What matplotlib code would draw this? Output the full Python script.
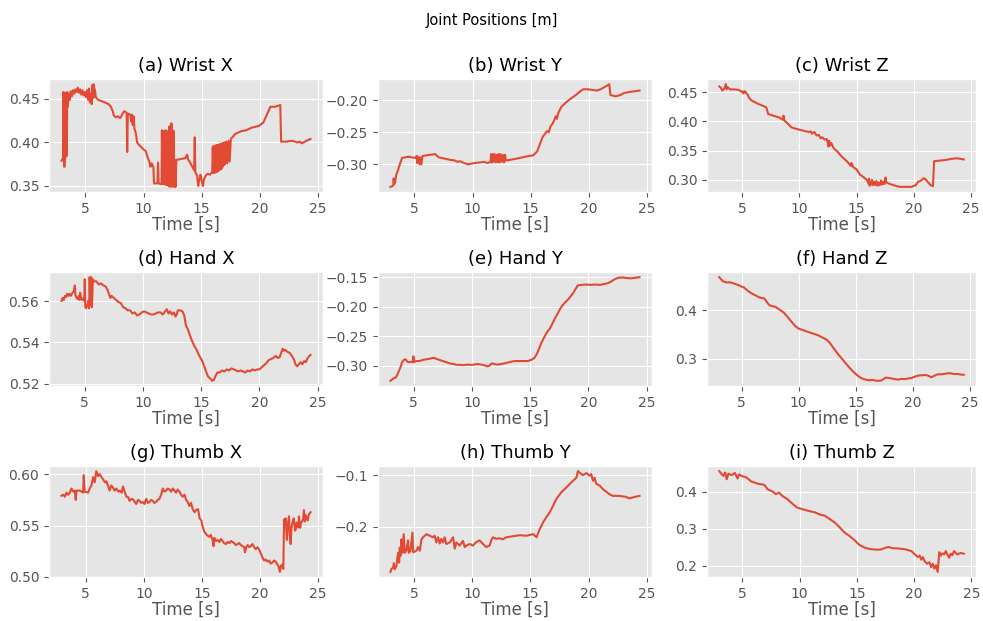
import matplotlib
matplotlib.use("Agg")
import matplotlib.pyplot as plt

plt.style.use("ggplot")

# ---------------- data ----------------
titles = ["(a) Wrist X", "(b) Wrist Y", "(c) Wrist Z",
          "(d) Hand X", "(e) Hand Y", "(f) Hand Z",
          "(g) Thumb X", "(h) Thumb Y", "(i) Thumb Z"]
suptitle = "Joint Positions [m]"
xlabel = "Time [s]"
xticks = [5, 10, 15, 20, 25]
yticks = [[0.35, 0.40, 0.45], [-0.30, -0.25, -0.20], [0.30, 0.35, 0.40, 0.45],
          [0.52, 0.54, 0.56], [-0.30, -0.25, -0.20, -0.15], [0.3, 0.4],
          [0.50, 0.55, 0.60], [-0.2, -0.1], [0.2, 0.3, 0.4]]

wrist_x_pts = [(2.95,0.379),(3.05,0.381),(3.10,0.383),(3.13,0.458),(3.16,0.380),(3.20,0.372),(3.27,0.383),(3.31,0.457),(3.35,0.384),(3.41,0.385),(3.45,0.458),(3.50,0.441),(3.58,0.456),(3.66,0.449),(3.75,0.459),(3.85,0.453),(3.95,0.460),(4.05,0.456),(4.15,0.461),(4.25,0.458),(4.35,0.463),(4.45,0.457),(4.55,0.461),(4.65,0.455),(4.75,0.460),(4.85,0.454),(4.95,0.458),(5.05,0.452),(5.15,0.460),(5.25,0.449),(5.32,0.462),(5.40,0.446),(5.48,0.456),(5.55,0.444),(5.60,0.466),(5.65,0.451),(5.70,0.467),(5.76,0.452),(5.82,0.461),(5.90,0.452),(6.1,0.449),(6.5,0.447),(7.0,0.444),(7.2,0.441),(7.35,0.436),(7.45,0.431),(7.6,0.429),(7.8,0.430),(8.0,0.428),(8.2,0.433),(8.35,0.436),(8.55,0.434),(8.6,0.389),(8.65,0.433),(8.85,0.432),(8.95,0.424),(9.0,0.432),(9.08,0.420),(9.15,0.430),(9.22,0.416),(9.35,0.410),(9.45,0.400),(9.7,0.396),(10.0,0.392),(10.2,0.390),(10.35,0.383),(10.5,0.378),(10.6,0.372),(10.7,0.376),(10.85,0.372),(10.9,0.353),(11.2,0.353),(11.25,0.377),(11.3,0.353),(11.55,0.352),(11.58,0.414),(11.62,0.353),(11.7,0.413),(11.75,0.352),(11.8,0.413),(11.9,0.414),(11.95,0.351),(12.0,0.413),(12.1,0.412),(12.15,0.350),(12.2,0.418),(12.25,0.349),(12.3,0.419),(12.35,0.350),(12.4,0.422),(12.45,0.349),(12.5,0.414),(12.55,0.350),(12.6,0.413),(12.65,0.349),(12.7,0.380),(12.75,0.349),(12.82,0.380),(13.2,0.381),(13.6,0.382),(13.75,0.386),(13.85,0.380),(14.0,0.377),(14.2,0.372),(14.35,0.368),(14.4,0.406),(14.45,0.366),(14.6,0.362),(14.7,0.350),(14.8,0.358),(14.9,0.363),(15.0,0.356),(15.1,0.350),(15.2,0.358),(15.35,0.362),(15.5,0.364),(15.7,0.363),(15.9,0.366),(15.95,0.395),(16.0,0.365),(16.05,0.396),(16.1,0.365),(16.15,0.396),(16.2,0.366),(16.25,0.397),(16.3,0.366),(16.35,0.397),(16.4,0.367),(16.45,0.397),(16.5,0.368),(16.55,0.398),(16.6,0.369),(16.65,0.398),(16.7,0.370),(16.75,0.399),(16.8,0.372),(16.85,0.399),(16.9,0.374),(16.95,0.400),(17.0,0.375),(17.1,0.401),(17.2,0.376),(17.3,0.402),(17.4,0.378),(17.5,0.404),(17.9,0.410),(18.4,0.413),(18.8,0.414),(19.3,0.417),(19.9,0.419),(20.3,0.423),(20.6,0.432),(20.9,0.441),(21.3,0.441),(21.75,0.443),(21.82,0.401),(22.3,0.401),(22.8,0.402),(23.2,0.400),(23.4,0.401),(23.6,0.399),(24.0,0.402),(24.35,0.404)]

wrist_y_pts = [(2.95,-0.335),(3.1,-0.334),(3.2,-0.332),(3.22,-0.322),(3.27,-0.331),(3.35,-0.328),(3.45,-0.316),(3.6,-0.309),(3.75,-0.300),(3.95,-0.290),(4.2,-0.289),(4.5,-0.288),(4.8,-0.289),(5.05,-0.290),(5.2,-0.287),(5.25,-0.298),(5.3,-0.288),(5.45,-0.300),(5.5,-0.289),(5.6,-0.300),(5.7,-0.287),(6.0,-0.286),(6.4,-0.285),(6.8,-0.284),(7.1,-0.289),(7.6,-0.291),(8.1,-0.293),(8.5,-0.294),(8.7,-0.296),(8.9,-0.295),(9.3,-0.298),(9.6,-0.300),(10.1,-0.298),(10.6,-0.297),(11.0,-0.296),(11.3,-0.298),(11.55,-0.296),(11.6,-0.284),(11.65,-0.297),(11.75,-0.284),(11.8,-0.296),(11.9,-0.284),(12.0,-0.297),(12.1,-0.285),(12.15,-0.296),(12.25,-0.284),(12.3,-0.297),(12.4,-0.284),(12.5,-0.296),(12.6,-0.285),(12.7,-0.297),(12.8,-0.285),(12.85,-0.294),(13.2,-0.293),(13.8,-0.291),(14.3,-0.289),(14.8,-0.287),(15.2,-0.286),(15.55,-0.280),(15.8,-0.268),(16.0,-0.258),(16.2,-0.253),(16.4,-0.248),(16.55,-0.250),(16.7,-0.241),(16.9,-0.236),(17.05,-0.230),(17.15,-0.225),(17.25,-0.229),(17.35,-0.221),(17.5,-0.215),(17.65,-0.210),(18.0,-0.204),(18.4,-0.198),(18.8,-0.193),(19.2,-0.187),(19.5,-0.183),(19.9,-0.183),(20.3,-0.184),(20.7,-0.185),(21.0,-0.183),(21.4,-0.179),(21.75,-0.175),(21.85,-0.192),(22.3,-0.194),(22.7,-0.192),(23.0,-0.189),(23.5,-0.187),(24.0,-0.186),(24.35,-0.185)]

wrist_z_pts = [(2.97,0.460),(3.1,0.458),(3.25,0.453),(3.35,0.455),(3.45,0.458),(3.55,0.464),(3.62,0.455),(3.7,0.459),(3.9,0.455),(4.3,0.455),(4.7,0.454),(4.9,0.451),(5.0,0.452),(5.1,0.448),(5.2,0.452),(5.3,0.450),(5.45,0.446),(5.6,0.440),(5.8,0.436),(6.3,0.431),(6.9,0.426),(7.1,0.424),(7.25,0.413),(7.7,0.410),(8.2,0.407),(8.55,0.403),(8.6,0.410),(8.65,0.402),(9.0,0.396),(9.3,0.390),(9.6,0.388),(10.2,0.385),(10.8,0.382),(11.0,0.383),(11.1,0.379),(11.3,0.382),(11.5,0.376),(11.7,0.377),(11.85,0.371),(12.0,0.373),(12.2,0.369),(12.4,0.370),(12.5,0.362),(12.55,0.357),(12.6,0.367),(12.7,0.359),(12.8,0.363),(13.0,0.354),(13.3,0.349),(13.7,0.340),(14.2,0.331),(14.5,0.324),(14.55,0.329),(14.7,0.322),(15.0,0.318),(15.3,0.309),(15.6,0.305),(15.95,0.299),(16.05,0.294),(16.1,0.302),(16.15,0.290),(16.2,0.296),(16.3,0.292),(16.35,0.300),(16.45,0.291),(16.55,0.297),(16.65,0.291),(16.75,0.298),(16.85,0.290),(16.95,0.295),(17.05,0.291),(17.15,0.299),(17.25,0.292),(17.35,0.297),(17.45,0.293),(17.55,0.304),(17.6,0.296),(17.9,0.293),(18.4,0.290),(18.8,0.288),(19.3,0.288),(19.8,0.288),(20.2,0.291),(20.4,0.297),(20.6,0.298),(20.9,0.303),(21.1,0.300),(21.3,0.295),(21.5,0.291),(21.7,0.289),(21.8,0.332),(22.3,0.333),(22.8,0.334),(23.3,0.336),(23.8,0.337),(24.1,0.336),(24.4,0.335)]

hand_x_pts = [(3.0,0.560),(3.1,0.5615),(3.2,0.5605),(3.3,0.5625),(3.4,0.562),(3.5,0.5635),(3.6,0.5625),(3.7,0.5635),(3.8,0.5625),(3.95,0.564),(4.05,0.5645),(4.15,0.5675),(4.2,0.563),(4.3,0.5615),(4.4,0.561),(4.5,0.5625),(4.55,0.5605),(4.6,0.564),(4.7,0.561),(4.8,0.5605),(4.9,0.5615),(4.97,0.560),(5.0,0.5705),(5.05,0.557),(5.12,0.5565),(5.2,0.5575),(5.3,0.560),(5.38,0.5565),(5.42,0.5715),(5.48,0.558),(5.55,0.5715),(5.62,0.557),(5.7,0.5705),(5.8,0.5695),(6.0,0.5695),(6.2,0.568),(6.4,0.5685),(6.6,0.5675),(6.8,0.567),(6.95,0.5655),(7.1,0.563),(7.2,0.5615),(7.3,0.5625),(7.5,0.5615),(7.7,0.5605),(7.9,0.5595),(8.1,0.559),(8.3,0.557),(8.5,0.5565),(8.7,0.5555),(8.9,0.5555),(9.1,0.554),(9.3,0.5545),(9.5,0.553),(9.7,0.5535),(9.9,0.5545),(10.1,0.555),(10.3,0.5545),(10.5,0.554),(10.7,0.5535),(10.9,0.5535),(11.1,0.554),(11.3,0.5545),(11.5,0.5545),(11.7,0.5535),(11.9,0.555),(12.05,0.556),(12.2,0.554),(12.35,0.555),(12.5,0.5535),(12.65,0.5545),(12.8,0.5525),(12.9,0.5535),(13.0,0.5555),(13.2,0.5555),(13.4,0.555),(13.55,0.553),(13.7,0.548),(13.85,0.5465),(14.0,0.544),(14.2,0.541),(14.4,0.5385),(14.6,0.5365),(14.85,0.5335),(15.1,0.531),(15.3,0.528),(15.45,0.5255),(15.6,0.5235),(15.8,0.5225),(15.95,0.5215),(16.1,0.522),(16.25,0.524),(16.4,0.5255),(16.6,0.5255),(16.8,0.5265),(17.0,0.526),(17.2,0.527),(17.4,0.5265),(17.6,0.5275),(17.8,0.527),(18.0,0.5265),(18.2,0.526),(18.4,0.5265),(18.6,0.526),(18.8,0.5255),(19.0,0.5265),(19.2,0.526),(19.4,0.527),(19.6,0.5265),(19.8,0.527),(20.0,0.527),(20.2,0.528),(20.4,0.529),(20.6,0.530),(20.8,0.5315),(21.0,0.532),(21.2,0.5325),(21.4,0.5335),(21.6,0.5325),(21.75,0.533),(21.85,0.5345),(22.0,0.537),(22.1,0.536),(22.2,0.5365),(22.4,0.5355),(22.6,0.535),(22.8,0.5335),(23.0,0.5315),(23.1,0.5295),(23.25,0.5285),(23.4,0.5295),(23.55,0.5305),(23.7,0.5295),(23.85,0.531),(24.0,0.5305),(24.15,0.5325),(24.3,0.5335),(24.4,0.534)]

hand_y_pts = [(3.0,-0.3255),(3.15,-0.323),(3.3,-0.321),(3.45,-0.320),(3.55,-0.317),(3.7,-0.310),(3.85,-0.303),(4.0,-0.294),(4.15,-0.290),(4.3,-0.289),(4.45,-0.293),(4.6,-0.294),(4.8,-0.293),(4.93,-0.294),(4.97,-0.284),(5.02,-0.294),(5.2,-0.292),(5.5,-0.292),(5.8,-0.290),(6.1,-0.289),(6.4,-0.288),(6.7,-0.2865),(6.9,-0.288),(7.2,-0.290),(7.5,-0.292),(7.8,-0.294),(8.1,-0.296),(8.4,-0.297),(8.7,-0.2985),(9.0,-0.2985),(9.3,-0.299),(9.6,-0.298),(9.9,-0.2985),(10.2,-0.298),(10.5,-0.297),(10.8,-0.298),(11.1,-0.2995),(11.3,-0.301),(11.5,-0.300),(11.7,-0.296),(11.9,-0.297),(12.2,-0.298),(12.5,-0.297),(12.8,-0.296),(13.1,-0.2945),(13.4,-0.293),(13.7,-0.292),(14.0,-0.292),(14.4,-0.292),(14.8,-0.292),(15.1,-0.290),(15.35,-0.287),(15.55,-0.281),(15.75,-0.272),(15.95,-0.262),(16.2,-0.252),(16.45,-0.243),(16.7,-0.237),(16.9,-0.229),(17.1,-0.221),(17.35,-0.212),(17.6,-0.203),(17.8,-0.197),(18.0,-0.193),(18.25,-0.188),(18.5,-0.182),(18.7,-0.177),(18.9,-0.170),(19.1,-0.164),(19.4,-0.163),(19.8,-0.1625),(20.2,-0.163),(20.6,-0.1625),(21.0,-0.163),(21.4,-0.1615),(21.7,-0.160),(22.0,-0.157),(22.3,-0.153),(22.6,-0.151),(23.0,-0.1505),(23.3,-0.1515),(23.7,-0.152),(24.0,-0.151),(24.4,-0.150)]

hand_z_pts = [(3.05,0.468),(3.2,0.464),(3.35,0.460),(3.55,0.458),(3.75,0.457),(3.95,0.4575),(4.2,0.456),(4.45,0.454),(4.7,0.452),(4.95,0.449),(5.2,0.447),(5.4,0.443),(5.6,0.439),(5.8,0.436),(6.0,0.433),(6.25,0.430),(6.5,0.427),(6.75,0.425),(7.0,0.424),(7.15,0.419),(7.3,0.414),(7.45,0.410),(7.7,0.408),(7.95,0.407),(8.2,0.403),(8.45,0.399),(8.7,0.395),(8.95,0.388),(9.2,0.381),(9.45,0.374),(9.7,0.367),(9.95,0.3625),(10.2,0.360),(10.45,0.358),(10.7,0.356),(10.95,0.354),(11.2,0.352),(11.45,0.350),(11.7,0.348),(11.95,0.345),(12.2,0.342),(12.45,0.339),(12.7,0.333),(12.95,0.325),(13.2,0.317),(13.45,0.309),(13.7,0.302),(13.95,0.295),(14.2,0.288),(14.45,0.281),(14.7,0.275),(14.95,0.269),(15.2,0.264),(15.45,0.260),(15.7,0.2575),(15.95,0.256),(16.2,0.255),(16.45,0.256),(16.7,0.2545),(16.95,0.254),(17.2,0.2545),(17.4,0.257),(17.6,0.2605),(17.85,0.260),(18.1,0.259),(18.4,0.2575),(18.7,0.2565),(19.0,0.258),(19.3,0.2575),(19.6,0.259),(19.9,0.260),(20.2,0.263),(20.5,0.265),(20.8,0.2655),(21.1,0.266),(21.35,0.2645),(21.6,0.2615),(21.85,0.264),(22.1,0.267),(22.4,0.2675),(22.7,0.268),(23.0,0.2695),(23.3,0.2695),(23.6,0.268),(23.9,0.268),(24.2,0.267),(24.45,0.2665)]

thumb_x_pts = [(2.91,0.579),(3.06,0.580),(3.2,0.578),(3.34,0.582),(3.49,0.580),(3.63,0.582),(3.77,0.586),(3.91,0.583),(4.06,0.584),(4.14,0.575),(4.2,0.584),(4.49,0.584),(4.77,0.582),(4.83,0.599),(4.9,0.583),(5.2,0.582),(5.34,0.586),(5.49,0.589),(5.63,0.597),(5.77,0.592),(5.91,0.603),(6.06,0.598),(6.2,0.600),(6.35,0.597),(6.49,0.595),(6.65,0.592),(6.77,0.593),(6.91,0.589),(7.05,0.584),(7.2,0.589),(7.34,0.587),(7.48,0.584),(7.63,0.586),(7.8,0.583),(7.92,0.584),(8.1,0.582),(8.2,0.588),(8.35,0.583),(8.49,0.578),(8.63,0.578),(8.77,0.574),(8.95,0.576),(9.1,0.575),(9.34,0.571),(9.5,0.575),(9.63,0.574),(9.8,0.572),(9.91,0.573),(10.05,0.571),(10.2,0.576),(10.35,0.572),(10.5,0.573),(10.63,0.575),(10.77,0.574),(10.9,0.572),(11.05,0.573),(11.2,0.575),(11.34,0.576),(11.49,0.580),(11.63,0.586),(11.77,0.583),(11.91,0.584),(12.05,0.586),(12.2,0.585),(12.35,0.583),(12.49,0.586),(12.63,0.584),(12.77,0.582),(12.91,0.585),(13.06,0.583),(13.2,0.580),(13.34,0.578),(13.5,0.580),(13.63,0.575),(13.77,0.573),(13.91,0.569),(14.06,0.572),(14.2,0.566),(14.37,0.563),(14.5,0.565),(14.66,0.566),(14.8,0.557),(14.95,0.555),(15.03,0.550),(15.2,0.544),(15.4,0.541),(15.63,0.539),(15.75,0.541),(15.91,0.536),(16.0,0.530),(16.06,0.538),(16.2,0.535),(16.35,0.536),(16.49,0.534),(16.63,0.537),(16.77,0.535),(16.9,0.533),(17.06,0.532),(17.2,0.534),(17.35,0.533),(17.5,0.535),(17.63,0.534),(17.77,0.533),(17.92,0.531),(18.06,0.532),(18.2,0.533),(18.35,0.531),(18.49,0.530),(18.63,0.529),(18.7,0.524),(18.8,0.529),(18.92,0.531),(19.06,0.529),(19.2,0.530),(19.34,0.532),(19.49,0.529),(19.63,0.527),(19.77,0.529),(19.91,0.527),(20.06,0.523),(20.2,0.519),(20.35,0.516),(20.49,0.517),(20.63,0.515),(20.77,0.516),(20.91,0.513),(21.06,0.514),(21.2,0.516),(21.34,0.515),(21.49,0.512),(21.6,0.510),(21.7,0.505),(21.8,0.511),(21.91,0.512),(22.0,0.508),(22.06,0.556),(22.15,0.554),(22.2,0.557),(22.3,0.536),(22.4,0.552),(22.49,0.559),(22.55,0.541),(22.63,0.532),(22.7,0.548),(22.77,0.552),(22.85,0.556),(22.91,0.557),(23.0,0.545),(23.06,0.546),(23.15,0.553),(23.2,0.551),(23.3,0.548),(23.34,0.559),(23.45,0.548),(23.5,0.552),(23.6,0.554),(23.7,0.556),(23.77,0.565),(23.85,0.554),(23.92,0.560),(24.0,0.557),(24.1,0.555),(24.2,0.561),(24.34,0.563)]

thumb_y_pts = [(2.97,-0.287),(3.05,-0.281),(3.2,-0.279),(3.26,-0.270),(3.34,-0.282),(3.48,-0.276),(3.55,-0.263),(3.63,-0.250),(3.72,-0.269),(3.77,-0.240),(3.83,-0.256),(3.91,-0.224),(4.0,-0.250),(4.11,-0.214),(4.2,-0.250),(4.34,-0.246),(4.48,-0.226),(4.55,-0.250),(4.69,-0.246),(4.86,-0.211),(4.92,-0.249),(5.2,-0.246),(5.34,-0.239),(5.49,-0.246),(5.63,-0.224),(5.77,-0.220),(6.06,-0.214),(6.34,-0.217),(6.63,-0.220),(6.77,-0.217),(6.91,-0.230),(7.06,-0.220),(7.2,-0.232),(7.34,-0.223),(7.49,-0.230),(7.63,-0.220),(7.77,-0.233),(8.06,-0.230),(8.35,-0.220),(8.49,-0.242),(8.63,-0.230),(8.92,-0.236),(9.2,-0.227),(9.35,-0.239),(9.49,-0.236),(9.77,-0.233),(10.06,-0.236),(10.35,-0.229),(10.63,-0.226),(10.92,-0.233),(11.2,-0.239),(11.49,-0.236),(11.63,-0.226),(11.78,-0.220),(12.06,-0.223),(12.35,-0.222),(12.63,-0.224),(12.92,-0.220),(13.5,-0.218),(14.08,-0.216),(14.65,-0.217),(15.23,-0.214),(15.52,-0.220),(15.8,-0.204),(16.09,-0.191),(16.37,-0.181),(16.65,-0.172),(16.94,-0.159),(17.22,-0.146),(17.65,-0.133),(18.07,-0.124),(18.5,-0.114),(18.94,-0.105),(19.08,-0.092),(19.22,-0.095),(19.5,-0.100),(19.8,-0.096),(20.08,-0.101),(20.22,-0.098),(20.37,-0.111),(20.5,-0.105),(20.66,-0.117),(20.94,-0.120),(21.22,-0.127),(21.51,-0.132),(21.8,-0.137),(22.08,-0.140),(22.65,-0.140),(23.22,-0.142),(23.5,-0.145),(23.94,-0.142),(24.37,-0.140)]

thumb_z_pts = [(2.97,0.455),(3.14,0.448),(3.34,0.442),(3.49,0.451),(3.63,0.433),(3.77,0.448),(4.06,0.444),(4.34,0.450),(4.57,0.435),(4.69,0.446),(4.91,0.442),(5.34,0.438),(5.77,0.427),(6.34,0.421),(6.91,0.418),(7.2,0.406),(7.63,0.400),(7.91,0.393),(8.2,0.397),(8.49,0.388),(8.91,0.380),(9.34,0.368),(9.77,0.357),(10.2,0.353),(10.77,0.348),(11.34,0.344),(11.77,0.338),(12.2,0.335),(12.63,0.326),(13.06,0.317),(13.49,0.304),(13.91,0.290),(14.34,0.281),(14.77,0.270),(15.2,0.257),(15.63,0.250),(16.06,0.246),(16.63,0.244),(17.06,0.244),(17.49,0.249),(17.77,0.251),(18.06,0.248),(18.63,0.247),(19.2,0.245),(19.77,0.240),(20.06,0.231),(20.34,0.224),(20.49,0.228),(20.63,0.217),(20.77,0.224),(20.91,0.213),(21.14,0.206),(21.34,0.210),(21.49,0.197),(21.63,0.206),(21.77,0.193),(21.91,0.202),(22.06,0.184),(22.11,0.202),(22.2,0.237),(22.34,0.228),(22.49,0.234),(22.63,0.231),(22.77,0.240),(22.91,0.231),(23.06,0.222),(23.2,0.233),(23.34,0.229),(23.49,0.240),(23.77,0.231),(24.06,0.235),(24.34,0.233)]

series = [wrist_x_pts, wrist_y_pts, wrist_z_pts,
          hand_x_pts, hand_y_pts, hand_z_pts,
          thumb_x_pts, thumb_y_pts, thumb_z_pts]

# ---------------- layout (pixels) ----------------
W, H = 983, 621
col_lr = [(49, 323), (378, 652), (707, 976)]
row_tb = [(79, 192), (272, 386), (466, 577)]

fig = plt.figure(figsize=(W / 100, H / 100), dpi=100)
for i, pts in enumerate(series):
    r, c = divmod(i, 3)
    l, rr = col_lr[c]
    t, b = row_tb[r]
    ax = fig.add_axes([l / W, 1 - b / H, (rr - l) / W, (b - t) / H])
    ts = [p[0] for p in pts]
    vs = [p[1] for p in pts]
    ax.plot(ts, vs, color="#E24A33", linewidth=1.5)
    ax.set_title(titles[i], fontsize=13)
    ax.set_xlabel(xlabel, fontsize=12, color="#555555", labelpad=0)
    ax.set_xticks(xticks)
    ax.set_yticks(yticks[i])
    ax.tick_params(labelsize=10, colors="#555555")

fig.text(0.5, 1 - 20 / H, suptitle, ha="center", va="center", fontsize=10.5)
fig.savefig("out.png", dpi=100)
